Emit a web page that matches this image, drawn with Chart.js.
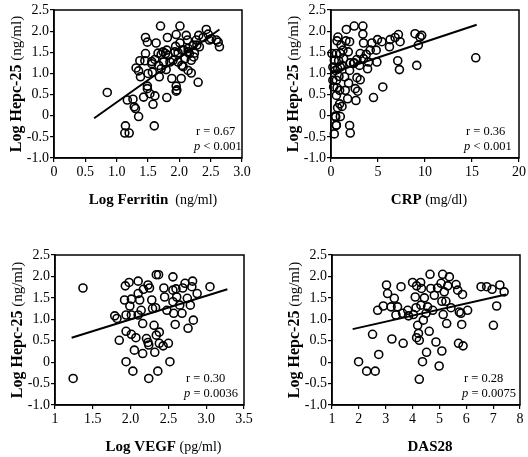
<!DOCTYPE html>
<html lang="en">
<head>
  <meta charset="UTF-8" />
  <title>Log Hepc-25 correlations</title>
  <script src="https://cdn.jsdelivr.net/npm/chart.js"></script>
  <style>
    html, body { margin: 0; padding: 0; background: #fff; }
    #wrap { position: relative; width: 528px; height: 457px; overflow: hidden; }
    .panel { position: absolute; }
  </style>
</head>
<body>
  <div id="wrap">
    <div class="panel" style="left:0;top:0;width:264px;height:228px"><canvas id="c1"></canvas></div>
    <div class="panel" style="left:264px;top:0;width:264px;height:228px"><canvas id="c2"></canvas></div>
    <div class="panel" style="left:0;top:228px;width:264px;height:229px"><canvas id="c3"></canvas></div>
    <div class="panel" style="left:264px;top:228px;width:264px;height:229px"><canvas id="c4"></canvas></div>
  </div>

  <script>
    // shared y axis
    const yTickValues = [-1, -0.5, 0, 0.5, 1, 1.5, 2, 2.5];
    const yTickLabels = ['-1.0', '-0.5', '0', '0.5', '1.0', '1.5', '2.0', '2.5'];

    // x axis ticks per panel
    const ferritinTicks = [0, 0.5, 1, 1.5, 2, 2.5, 3];
    const ferritinTickLabels = ['0', '0.5', '1.0', '1.5', '2.0', '2.5', '3.0'];
    const crpTicks = [0, 5, 10, 15, 20];
    const crpTickLabels = ['0', '5', '10', '15', '20'];
    const vegfTicks = [1, 1.5, 2, 2.5, 3, 3.5];
    const vegfTickLabels = ['1', '1.5', '2.0', '2.5', '3.0', '3.5'];
    const dasTicks = [1, 2, 3, 4, 5, 6, 7, 8];
    const dasTickLabels = ['1', '2', '3', '4', '5', '6', '7', '8'];

    // [x, log hepc-25]
    const ferritinPts = [
      [0.85, 0.55], [1.17, 0.37], [1.26, 0.39], [1.30, 0.17], [1.35, -0.02], [1.14, -0.24], [1.13, -0.41], [1.20, -0.41],
      [1.28, 0.21], [1.31, 1.13], [1.35, 1.06], [1.38, 0.92], [1.37, 1.30], [1.45, 1.30], [1.46, 1.47], [1.46, 1.85],
      [1.49, 1.74], [1.43, 0.44], [1.49, 0.70], [1.49, 0.64], [1.53, 0.52], [1.56, 1.23], [1.57, 1.03], [1.58, 0.27],
      [1.61, 0.47], [1.60, -0.24], [1.63, 1.72], [1.61, 1.33], [1.67, 1.19], [1.70, 2.12], [1.68, 0.92], [1.71, 1.45],
      [1.71, 1.11], [1.75, 1.27], [1.78, 1.47], [1.80, 1.55], [1.79, 1.09], [1.81, 1.85], [1.82, 1.43], [1.80, 0.43],
      [1.85, 1.27], [1.88, 0.88], [1.90, 1.31], [1.94, 1.64], [1.95, 1.92], [1.95, 0.70], [1.95, 0.58], [1.98, 1.27],
      [1.98, 1.49], [2.01, 2.12], [2.01, 1.72], [2.03, 0.88], [2.04, 1.19], [2.07, 1.55], [2.09, 1.35], [2.11, 1.90],
      [2.13, 1.79], [2.14, 1.59], [2.16, 1.47], [2.14, 1.07], [2.19, 1.01], [2.19, 1.31], [2.23, 1.39], [2.24, 1.48],
      [2.27, 1.79], [2.28, 1.67], [2.30, 0.79], [2.31, 1.90], [2.32, 1.63], [2.38, 1.85], [2.43, 2.04], [2.46, 1.93],
      [2.48, 1.79], [2.51, 1.82], [2.59, 1.79], [2.62, 1.74], [2.64, 1.63], [1.66, 1.48], [1.74, 1.51], [1.93, 1.51],
      [2.04, 1.55], [2.14, 1.51], [2.22, 1.67], [2.06, 1.16], [1.50, 1.00], [1.56, 1.28], [1.96, 0.61]
    ];
    const crpPts = [
      [0.35, -0.43], [0.57, -0.23], [0.50, -0.03], [0.70, 0.19], [0.92, 0.28], [1.17, 0.22], [0.99, -0.02], [0.57, 0.48],
      [0.64, 0.66], [0.92, 0.60], [0.57, 0.84], [0.85, 0.93], [0.46, 1.07], [0.71, 1.11], [0.35, 1.31], [0.57, 1.47],
      [0.99, 1.47], [0.81, 1.30], [1.27, 1.55], [1.34, 1.35], [1.17, 1.19], [1.45, 0.92], [1.52, 0.60], [1.77, 0.40],
      [1.87, 0.77], [1.98, 1.07], [2.05, 1.25], [1.84, 1.51], [1.98, 1.75], [1.63, 2.04], [0.74, 1.86], [0.64, 1.77],
      [1.06, 1.67], [1.59, 1.77], [0.99, 1.15], [1.98, -0.23], [2.05, -0.41], [2.47, 2.12], [2.58, 0.64], [2.65, 0.36],
      [2.83, 0.58], [2.76, 0.90], [3.11, 0.85], [2.47, 1.25], [2.76, 1.33], [3.04, 1.19], [3.39, 2.12], [3.39, 1.93],
      [3.46, 1.72], [3.11, 1.47], [3.46, 1.35], [3.75, 1.45], [3.89, 1.11], [3.99, 1.27], [4.17, 1.55], [4.35, 1.72],
      [4.52, 0.43], [4.81, 1.55], [4.88, 1.27], [4.95, 1.80], [5.41, 1.75], [5.51, 0.68], [6.29, 1.80], [6.22, 1.63],
      [6.82, 1.85], [7.17, 1.92], [7.10, 1.30], [7.28, 1.09], [7.35, 1.75], [8.94, 1.94], [9.12, 1.19], [9.29, 1.67],
      [9.47, 1.86], [9.65, 1.90], [15.4, 1.37], [0.10, 1.47], [0.20, 1.15], [0.20, 0.84], [0.28, 0.68], [2.40, 1.24],
      [0.56, -0.22], [0.46, -0.01]
    ];
    const vegfPts = [
      [1.24, -0.38], [1.37, 1.73], [1.85, 0.51], [1.94, 0.72], [1.79, 1.08], [1.82, 1.02], [1.93, 1.78], [1.98, 1.86],
      [1.92, 1.45], [1.94, 1.10], [2.01, 1.10], [1.99, 1.31], [2.01, 1.47], [2.01, 0.65], [2.07, 0.57], [2.05, 0.28],
      [1.94, 0.01], [2.03, -0.21], [2.10, 1.89], [2.10, 1.60], [2.12, 1.45], [2.14, 1.21], [2.10, 1.10], [2.16, 0.90],
      [2.16, 0.20], [2.17, 1.70], [2.23, 1.80], [2.21, 0.55], [2.23, 0.46], [2.24, 0.40], [2.24, -0.38], [2.25, 1.73],
      [2.28, 1.45], [2.29, 1.25], [2.31, 0.86], [2.32, 0.23], [2.34, 2.04], [2.37, 2.04], [2.34, 0.63], [2.38, 0.70],
      [2.38, 0.44], [2.36, -0.21], [2.33, 1.27], [2.43, 0.38], [2.44, 1.73], [2.45, 1.52], [2.48, 1.21], [2.50, 0.44],
      [2.52, 0.01], [2.56, 1.99], [2.56, 1.68], [2.56, 1.41], [2.57, 1.14], [2.59, 0.88], [2.60, 1.71], [2.61, 1.52],
      [2.65, 1.33], [2.68, 1.14], [2.69, 1.73], [2.72, 1.84], [2.75, 1.49], [2.76, 0.79], [2.79, 1.33], [2.81, 1.76],
      [2.82, 1.89], [2.83, 0.98], [2.88, 1.60], [3.05, 1.76]
    ];
    const dasPts = [
      [1.99, 0.01], [2.29, -0.21], [2.61, -0.21], [2.51, 0.65], [2.74, 0.18], [2.70, 1.21], [2.91, 1.31], [3.03, 1.80],
      [3.07, 1.60], [3.23, 0.54], [3.20, 1.29], [3.32, 1.49], [3.38, 1.10], [3.44, 1.29], [3.57, 1.76], [3.65, 0.44],
      [3.63, 1.14], [3.82, 1.21], [3.85, 1.08], [4.00, 1.86], [4.03, 1.11], [4.10, 1.52], [4.13, 1.27], [4.15, 1.78],
      [4.15, 0.57], [4.19, 0.86], [4.22, 0.67], [4.25, 0.51], [4.25, -0.40], [4.30, 1.86], [4.33, 1.72], [4.31, 1.33],
      [4.37, 0.01], [4.40, 0.98], [4.44, 1.50], [4.50, 1.14], [4.52, 0.23], [4.56, 1.29], [4.62, 0.72], [4.65, 2.05],
      [4.68, 1.72], [4.75, 1.21], [4.81, 1.56], [4.87, 0.47], [4.93, 1.73], [4.99, -0.09], [5.06, 1.84], [5.09, 1.42],
      [5.09, 0.26], [5.12, 2.05], [5.14, 1.11], [5.18, 1.64], [5.24, 1.42], [5.27, 0.90], [5.31, 1.78], [5.37, 1.99],
      [5.43, 1.27], [5.62, 1.81], [5.68, 1.68], [5.71, 0.44], [5.74, 1.17], [5.80, 1.14], [5.86, 1.58], [5.83, 0.88],
      [5.88, 0.38], [6.05, 1.21], [6.55, 1.76], [6.76, 1.76], [6.96, 1.70], [7.01, 0.86], [7.13, 1.31], [7.25, 1.80],
      [7.41, 1.64]
    ];

    // regression line end points
    const ferritinFit = [[0.64, -0.06], [2.64, 2.04]];
    const crpFit = [[0.03, 1.01], [15.5, 2.15]];
    const vegfFit = [[1.22, 0.57], [3.28, 1.70]];
    const dasFit = [[1.77, 0.77], [7.48, 1.58]];

    // axis titles and statistics
    const xTitles = [
      [['Log Ferritin', true], ['  (ng/ml)', false]],
      [['CRP', true], [' (mg/dl)', false]],
      [['Log VEGF', true], [' (pg/ml)', false]],
      [['DAS28', true]]
    ];
    const yTitle = [['Log Hepc-25', true], [' (ng/ml)', false]];
    const rTexts = ['r = 0.67', 'r = 0.36', 'r = 0.30', 'r = 0.28'];
    const pTexts = [' < 0.001', ' < 0.001', ' = 0.0036', ' = 0.0075'];

    const serif = '"Liberation Serif", "Times New Roman", serif';

    function drawParts(ctx, parts, cx, cy, big) {
      const fb = 'bold ' + (big ? 16 : 15) + 'px ' + serif;
      const fn = (big ? 15 : 14) + 'px ' + serif;
      let total = 0;
      parts.forEach(p => {
        ctx.font = p[1] ? fb : fn;
        total += ctx.measureText(p[0]).width;
      });
      let x = cx - total / 2;
      parts.forEach(p => {
        ctx.font = p[1] ? fb : fn;
        ctx.fillText(p[0], x, cy);
        x += ctx.measureText(p[0]).width;
      });
    }

    const decor = {
      id: 'decor',
      afterDraw(chart) {
        const o = chart.options.plugins.decor;
        const a = chart.chartArea;
        const ctx = chart.ctx;
        ctx.save();
        ctx.strokeStyle = '#000';
        ctx.lineWidth = 1.5;
        ctx.strokeRect(a.left, a.top, a.right - a.left, a.bottom - a.top);

        ctx.fillStyle = '#000';
        ctx.textBaseline = 'middle';
        ctx.textAlign = 'left';
        drawParts(ctx, xTitles[o.idx], (a.left + a.right) / 2 + o.xShift, a.bottom + 42, false);

        ctx.save();
        ctx.translate(a.left - 37, (a.top + a.bottom) / 2);
        ctx.rotate(-Math.PI / 2);
        drawParts(ctx, yTitle, 0, 0, true);
        ctx.restore();

        const sx = a.left + o.statX;
        ctx.font = '12.5px ' + serif;
        ctx.fillText(rTexts[o.idx], sx + 2, a.bottom - 26);
        ctx.font = 'italic 12.5px ' + serif;
        ctx.fillText('p', sx, a.bottom - 11);
        const w = ctx.measureText('p').width;
        ctx.font = '12.5px ' + serif;
        ctx.fillText(pTexts[o.idx], sx + w, a.bottom - 11);
        ctx.restore();
      }
    };

    function makeChart(canvasId, idx, pts, fit, xMin, xMax, xTicks, xLabels, pad, statX, xShift) {
      new Chart(document.getElementById(canvasId), {
        type: 'scatter',
        data: {
          datasets: [
            {
              data: pts.map(p => ({ x: p[0], y: p[1] })),
              pointRadius: 4,
              pointBorderWidth: 1.6,
              pointBorderColor: '#000',
              pointBackgroundColor: 'rgba(0,0,0,0)',
              clip: false
            },
            {
              data: fit.map(p => ({ x: p[0], y: p[1] })),
              showLine: true,
              borderColor: '#000',
              borderWidth: 2,
              pointRadius: 0
            }
          ]
        },
        options: {
          responsive: true,
          maintainAspectRatio: false,
          animation: false,
          layout: { padding: pad },
          plugins: {
            legend: { display: false },
            tooltip: { enabled: false },
            decor: { idx: idx, statX: statX, xShift: xShift }
          },
          scales: {
            x: {
              type: 'linear',
              min: xMin,
              max: xMax,
              afterBuildTicks: s => { s.ticks = xTicks.map(v => ({ value: v })); },
              afterFit: s => { s.height = 25; s.paddingLeft = 0; s.paddingRight = 0; },
              ticks: {
                autoSkip: false,
                maxRotation: 0,
                padding: 2,
                color: '#000',
                font: { family: serif, size: 14 },
                callback: (v, i) => xLabels[i]
              },
              grid: { drawOnChartArea: false, tickLength: 4, color: '#000', lineWidth: 1.2 },
              border: { display: true, color: '#000', width: 1.5 }
            },
            y: {
              min: -1,
              max: 2.5,
              afterBuildTicks: s => { s.ticks = yTickValues.map(v => ({ value: v })); },
              afterFit: s => { s.width = 30; s.paddingTop = 0; s.paddingBottom = 0; },
              ticks: {
                autoSkip: false,
                padding: 1,
                color: '#000',
                font: { family: serif, size: 14 },
                callback: (v, i) => yTickLabels[i]
              },
              grid: { drawOnChartArea: false, tickLength: 4, color: '#000', lineWidth: 1.2 },
              border: { display: true, color: '#000', width: 1.5 }
            }
          }
        },
        plugins: [decor]
      });
    }

    makeChart('c1', 0, ferritinPts, ferritinFit, 0, 3, ferritinTicks, ferritinTickLabels,
      { left: 24, right: 22, top: 10, bottom: 45 }, 140, 5);
    makeChart('c2', 1, crpPts, crpFit, 0, 20, crpTicks, crpTickLabels,
      { left: 37, right: 9, top: 10, bottom: 45 }, 133, 4);
    makeChart('c3', 2, vegfPts, vegfFit, 1, 3.5, vegfTicks, vegfTickLabels,
      { left: 25, right: 20, top: 27, bottom: 27 }, 129, 14);
    makeChart('c4', 3, dasPts, dasFit, 1, 8, dasTicks, dasTickLabels,
      { left: 38, right: 8, top: 27, bottom: 27 }, 130, 4);
  </script>
</body>
</html>
